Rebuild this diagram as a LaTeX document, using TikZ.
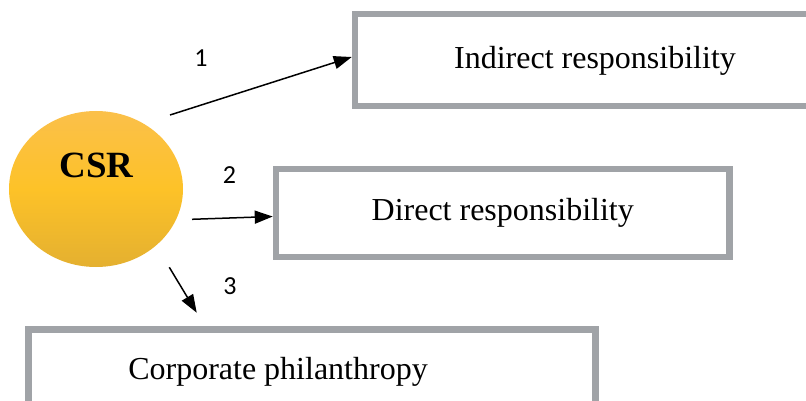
\documentclass[tikz,border=0pt]{standalone}
\usepackage{fontspec}
\setmainfont{Liberation Serif}
\newfontfamily\numfont{Carlito}
\usetikzlibrary{shapes.geometric,arrows.meta}
\definecolor{boxgray}{RGB}{160,163,167}
\definecolor{csrtop}{RGB}{251,192,74}
\definecolor{csrmid}{RGB}{253,194,40}
\definecolor{csrbot}{RGB}{228,176,48}
\begin{document}
\begin{tikzpicture}[x=1pt,y=-1pt,
        respbox/.style={draw=boxgray,line width=6.5pt,fill=white,inner sep=0pt},
        resptext/.style={font=\fontsize{32}{32}\selectfont},
        numlabel/.style={anchor=base,font=\numfont\fontsize{26}{26}\selectfont},
        link/.style={-{Triangle[length=18pt,width=13pt]},line width=1.5pt}]
        \useasboundingbox (0,0) rectangle (806,401);
        \clip (0,0) rectangle (806,401);

        \node[ellipse,minimum width=174pt,minimum height=156pt,inner sep=0pt,
              top color=csrtop,bottom color=csrbot,middle color=csrmid] (csr) at (96,189) {};
        \node[anchor=base,font=\bfseries\fontsize{37}{37}\selectfont] (csrlabel) at (96.5,177) {CSR};

        \node[respbox,minimum width=480pt,minimum height=92pt] (indirect) at (595,60) {};
        \node[resptext] (indirectlabel) at (595,61) {Indirect responsibility};

        \node[respbox,minimum width=453.5pt,minimum height=88pt,resptext] (direct) at (502.75,213) {Direct responsibility};

        \node[respbox,minimum width=567pt,minimum height=88pt] (philanthropy) at (312,373.5) {};
        \node[resptext] (philanthropylabel) at (278,372) {Corporate philanthropy};

        \coordinate (s1) at (170,115);
        \coordinate (s2) at (192,219.3);
        \coordinate (s3) at (169.3,267.3);
        \coordinate (t3) at (196.7,312.7);

        \draw[link] (s1) -- ([yshift=3pt]indirect.west);
        \draw[link] (s2) -- ([yshift=-3.5pt]direct.west);
        \draw[link] (s3) -- (t3);

        \node[numlabel] (n1) at (201,67) {1};
        \node[numlabel] (n2) at (229.5,183) {2};
        \node[numlabel] (n3) at (230,294) {3};
    \end{tikzpicture}
\end{document}
